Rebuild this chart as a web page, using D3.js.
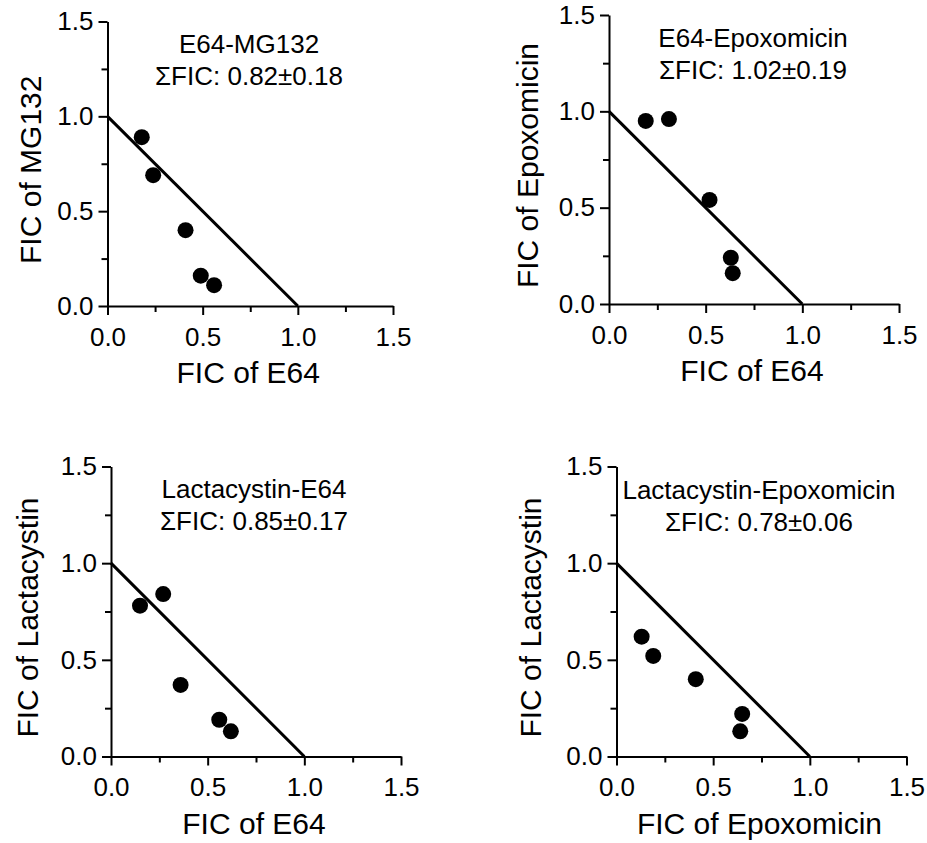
<!DOCTYPE html>
<html>
<head>
<meta charset="utf-8">
<script src="https://cdn.jsdelivr.net/npm/d3@7"></script>
<style>
  body { margin: 0; background: #fff; }
  svg text { font-family: "Liberation Sans", Arial, sans-serif; fill: #000; }
</style>
</head>
<body>
<svg id="svgRoot" width="927" height="843"></svg>
<script>
// chart values
const pairNames = ['E64-MG132', 'E64-Epoxomicin', 'Lactacystin-E64', 'Lactacystin-Epoxomicin'];
const sumFic = ['0.82±0.18', '1.02±0.19', '0.85±0.17', '0.78±0.06'];
const xTitles = ['FIC of E64', 'FIC of E64', 'FIC of E64', 'FIC of Epoxomicin'];
const yTitles = ['FIC of MG132', 'FIC of Epoxomicin', 'FIC of Lactacystin', 'FIC of Lactacystin'];

const ficX = [
  [0.18, 0.24, 0.41, 0.49, 0.56],
  [0.19, 0.31, 0.52, 0.63, 0.64],
  [0.15, 0.27, 0.36, 0.56, 0.62],
  [0.13, 0.19, 0.41, 0.65, 0.64]
];
const ficY = [
  [0.89, 0.69, 0.40, 0.16, 0.11],
  [0.95, 0.96, 0.54, 0.24, 0.16],
  [0.78, 0.84, 0.37, 0.19, 0.13],
  [0.62, 0.52, 0.40, 0.22, 0.13]
];

const majorTicks = [0, 0.5, 1, 1.5];
const minorTicks = [0.25, 0.75, 1.25];
const additivityLine = [[0, 1], [1, 0]];

// panel frames (pixel positions of the axes)
const frames = [
  { left: 107.5, right: 393, top: 21.5, bottom: 306, titleX: 249, titleY: 53, yLabX: 41 },
  { left: 609, right: 899, top: 15, bottom: 304, titleX: 753, titleY: 47, yLabX: 538 },
  { left: 111, right: 401, top: 466.5, bottom: 756.5, titleX: 254, titleY: 498, yLabX: 38 },
  { left: 616.5, right: 906.5, top: 466.5, bottom: 756.5, titleX: 759, titleY: 499, yLabX: 541 }
];

const svg = d3.select('#svgRoot');
const fmt = d3.format('.1f');

frames.forEach((f, i) => {
  const x = d3.scaleLinear().domain([0, 1.5]).range([f.left, f.right]);
  const y = d3.scaleLinear().domain([0, 1.5]).range([f.bottom, f.top]);
  const g = svg.append('g');

  // minor ticks
  g.append('g')
    .attr('transform', `translate(0,${f.bottom})`)
    .call(d3.axisBottom(x).tickValues(minorTicks).tickSize(6).tickFormat(''))
    .call((a) => a.select('.domain').remove());
  g.append('g')
    .attr('transform', `translate(${f.left},0)`)
    .call(d3.axisLeft(y).tickValues(minorTicks).tickSize(6).tickFormat(''))
    .call((a) => a.select('.domain').remove());

  // major ticks + axis lines
  const xAxis = g.append('g')
    .attr('transform', `translate(0,${f.bottom})`)
    .call(d3.axisBottom(x).tickValues(majorTicks).tickSize(9).tickSizeOuter(0).tickPadding(12).tickFormat(fmt));
  const yAxis = g.append('g')
    .attr('transform', `translate(${f.left},0)`)
    .call(d3.axisLeft(y).tickValues(majorTicks).tickSize(9).tickSizeOuter(0).tickPadding(5).tickFormat(fmt));

  [xAxis, yAxis].forEach((a) => {
    a.attr('font-family', null).attr('font-size', null);
    a.selectAll('.domain').attr('stroke', '#000').attr('stroke-width', 2);
    a.selectAll('.tick text').style('font-size', '26px');
  });
  g.selectAll('.tick line').attr('stroke', '#000').attr('stroke-width', 2);
  xAxis.selectAll('.tick text').attr('dy', '0.72em');

  // additivity line
  g.append('path')
    .datum(additivityLine)
    .attr('d', d3.line().x((d) => x(d[0])).y((d) => y(d[1])))
    .attr('fill', 'none')
    .attr('stroke', '#000')
    .attr('stroke-width', 3);

  // points
  g.selectAll('circle')
    .data(ficX[i].map((v, k) => [v, ficY[i][k]]))
    .join('circle')
    .attr('cx', (d) => x(d[0]))
    .attr('cy', (d) => y(d[1]))
    .attr('r', 8)
    .attr('fill', '#000');

  // title block
  g.append('text')
    .attr('x', f.titleX).attr('y', f.titleY)
    .attr('text-anchor', 'middle')
    .style('font-size', '26px')
    .text(pairNames[i]);
  g.append('text')
    .attr('x', f.titleX).attr('y', f.titleY + 32)
    .attr('text-anchor', 'middle')
    .style('font-size', '26px')
    .text('ΣFIC: ' + sumFic[i]);

  // axis titles
  g.append('text')
    .attr('x', (f.left + f.right) / 2 - 2)
    .attr('y', f.bottom + 77)
    .attr('text-anchor', 'middle')
    .style('font-size', '30px')
    .text(xTitles[i]);
  g.append('text')
    .attr('transform', `translate(${f.yLabX},${(f.top + f.bottom) / 2 + 6}) rotate(-90)`)
    .attr('text-anchor', 'middle')
    .style('font-size', '30px')
    .text(yTitles[i]);
});
</script>
</body>
</html>
